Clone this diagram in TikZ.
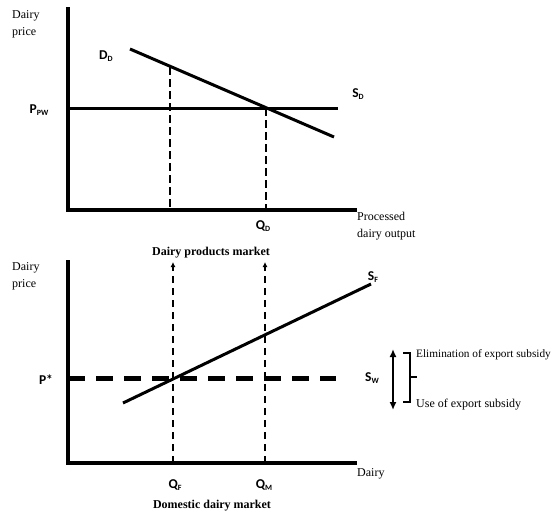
\documentclass[tikz,border=0pt]{standalone}
\usepackage{fontspec}
\setmainfont{Liberation Serif}
\newfontfamily\labfont{Carlito}
\usetikzlibrary{arrows.meta}
\newcommand\sublab[2]{#1\raisebox{-0.3ex}{\fontsize{8}{8}\selectfont #2}}
\begin{document}
\begin{tikzpicture}[x=1pt,y=-1pt,
  axis/.style={line width=3.4pt},
  curve/.style={line width=3pt},
  vdash/.style={line width=2.6pt, dash pattern=on 7.5pt off 4.5pt},
  pdash/.style={line width=5pt, dash pattern=on 17pt off 11pt},
  lab/.style={font=\labfont\bfseries\fontsize{13.5}{15}\selectfont, inner sep=0pt},
  txt/.style={font=\fontsize{12}{17}\selectfont, inner sep=0pt, align=left},
  ttl/.style={font=\bfseries\fontsize{12}{14}\selectfont, inner sep=0pt},
  uptip/.style={-{Latex[length=5pt,width=5pt]}}
]
\useasboundingbox (0,0) rectangle (552,515);
% ---------- top panel ----------
\coordinate (tY) at (68,7);
\coordinate (tO) at (68,210);
\coordinate (tX) at (357,210);
\draw[axis] (tY) -- (tO) -- (tX);
\coordinate (pw0) at (68,108);
\coordinate (pw1) at (338,108);
\draw[curve] (pw0) -- (pw1);
\coordinate (d0) at (130,49);
\coordinate (d1) at (334,137);
\draw[curve] (d0) -- (d1);
\coordinate (a1) at (170,67);
\coordinate (a1b) at (170,210);
\coordinate (a2) at (266,108);
\coordinate (a2b) at (266,210);
\draw[vdash] (a1) -- (a1b);
\draw[vdash] (a2) -- (a2b);
\node[lab] (DD) at (106,56) {\sublab{D}{D}};
\node[lab] (PPW) at (39,110) {\sublab{P}{PW}};
\node[lab] (SD) at (358,94) {\sublab{S}{D}};
\node[lab] (QD) at (263,226) {\sublab{Q}{D}};
\node[txt, anchor=north west] (xlab1) at (357,212) {Processed\\dairy output};
\node[txt, anchor=north west] (ylab1) at (12,10) {Dairy\\price};
\node[ttl] (t1) at (211,253) {Dairy products market};
% ---------- bottom panel ----------
\coordinate (bY) at (68,260);
\coordinate (bO) at (68,463);
\coordinate (bX) at (357,463);
\draw[axis] (bY) -- (bO) -- (bX);
\coordinate (ps0) at (68,378);
\coordinate (ps1) at (336,378);
\draw[pdash] (ps0) -- (ps1);
\coordinate (s0) at (123,403);
\coordinate (s1) at (371,284);
\draw[curve] (s0) -- (s1);
\coordinate (q1) at (173,463);
\coordinate (q1t) at (173,262);
\coordinate (q2) at (265,463);
\coordinate (q2t) at (265,262);
\draw[vdash, uptip] (q1) -- (q1t);
\draw[vdash, uptip] (q2) -- (q2t);
\node[lab] (SF) at (373,277) {\sublab{S}{F}};
\node[lab] (SW) at (372,378) {\sublab{S}{W}};
\node[lab] (QF) at (175,485) {\sublab{Q}{F}};
\node[lab] (QM) at (264,485) {\sublab{Q}{M}};
\node[lab] (Pst) at (46,380) {P*};
\node[txt, anchor=west] (xlab2) at (357,474) {Dairy};
\node[txt, anchor=north west] (ylab2) at (12,262) {Dairy\\price};
\node[ttl] (t2) at (212,506) {Domestic dairy market};
% double arrow and bracket
\coordinate (da0) at (393,349);
\coordinate (da1) at (393,410);
\draw[line width=2.6pt, {Latex[length=8pt,width=7pt]}-{Latex[length=8pt,width=7pt]}] (da0) -- (da1);
\coordinate (br1) at (403,353);
\coordinate (br2) at (410,353);
\coordinate (br3) at (410,402);
\coordinate (br4) at (403,402);
\coordinate (bm0) at (410,377);
\coordinate (bm1) at (417,377);
\draw[line width=1.8pt] (br1) -- (br2) -- (br3) -- (br4);
\draw[line width=1.8pt] (bm0) -- (bm1);
\node[txt, anchor=west, font=\fontsize{11.3}{14}\selectfont] (elim) at (416,355) {Elimination of export subsidy};
\node[txt, anchor=west] (use) at (416,405) {Use of export subsidy};
\end{tikzpicture}
\end{document}
